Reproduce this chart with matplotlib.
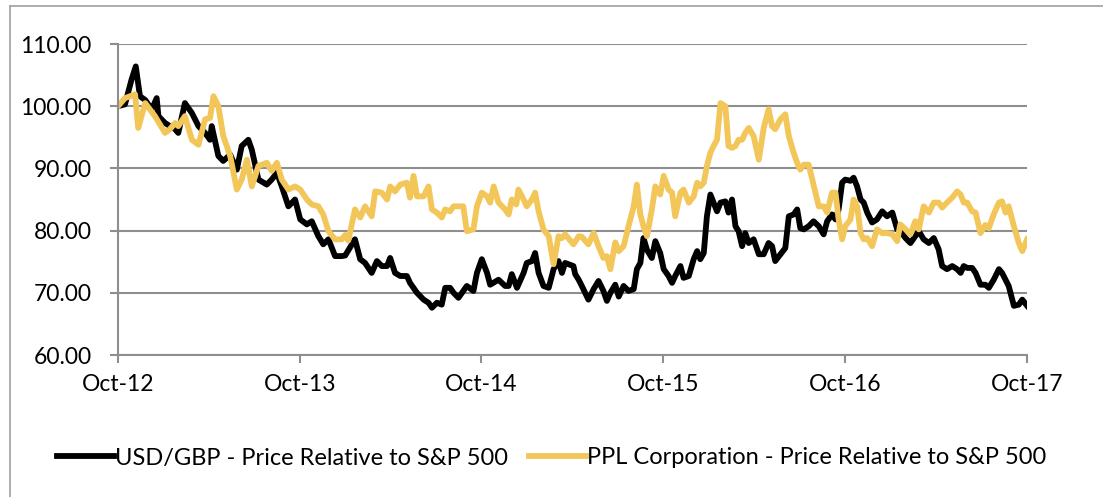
import matplotlib
matplotlib.use("Agg")
import matplotlib.pyplot as plt
import matplotlib.dates as mdates
from matplotlib.lines import Line2D
import pandas as pd
import numpy as np

plt.rcParams['font.family'] = ['Lato', 'DejaVu Sans']

start = pd.Timestamp('2012-10-01')
end = pd.Timestamp('2017-10-01')

series_names = ["USD/GBP - Price Relative to S&P 500",
                "PPL Corporation - Price Relative to S&P 500"]

# weeks since 1 Oct 2012, and values
usd_weeks = [0, 2.0, 3.9, 5.1, 6.3, 7.8, 9.7, 11.1, 11.6, 13.5, 14.9, 16.4, 17.3, 19.2, 21.2, 23.1,
             25.0, 26.4, 26.9, 28.8, 30.2, 32.2, 34.1, 35.5, 37.4, 38.4, 40.3, 42.7, 44.1, 45.6,
             47.0, 48.9, 50.8, 52.3, 54.2, 55.6, 57.5, 58.9, 60.4, 62.3, 64.2, 65.2, 68.0, 69.5,
             70.9, 72.8, 74.3, 75.7, 77.2, 78.1, 79.5, 81.0, 82.9, 83.8, 85.8, 87.7, 89.1, 90.1,
             91.5, 92.9, 93.9, 95.3, 96.3, 97.7, 99.1, 100.1, 102.0, 103.0, 104.4, 105.9, 106.8,
             109.2, 111.1, 112.1, 113.0, 114.5, 116.4, 117.3, 118.8, 119.7, 120.7, 122.1, 123.6,
             125.0, 126.4, 127.4, 128.3, 130.7, 131.2, 132.2, 133.1, 135.0, 136.5, 137.9, 139.3,
             140.3, 141.3, 142.7, 143.7, 145.1, 146.5, 148.0, 148.9, 149.9, 150.8, 151.8, 153.2,
             154.2, 155.6, 156.6, 158.0, 159.0, 159.9, 161.4, 162.3, 163.8, 165.2, 166.2, 167.1,
             168.1, 169.0, 170.0, 170.9, 171.9, 172.9, 174.3, 175.2, 176.2, 177.2, 178.1, 179.1,
             180.0, 181.0, 182.4, 183.9, 185.3, 186.7, 187.7, 188.6, 190.1, 191.5, 192.5, 193.9,
             194.9, 195.8, 196.8, 198.2, 199.6, 201.1, 202.5, 203.5, 204.9, 205.9, 206.8, 207.8,
             208.7, 210.2, 211.1, 212.1, 213.1, 214.0, 215.0, 216.4, 217.8, 219.3, 220.7, 222.2,
             223.6, 224.5, 226.0, 227.4, 228.8, 229.8, 231.2, 232.7, 234.1, 235.5, 236.5, 237.9,
             239.4, 240.8, 241.8, 242.7, 243.7, 245.1, 246.1, 247.5, 248.9, 249.9, 251.3, 252.8,
             253.7, 254.7, 255.6, 257.1, 258.5, 259.5, 260.9]
usd_values = [100.0, 100.3, 104.3, 106.4, 101.6, 101.0, 99.5, 101.3, 98.4, 97.3, 96.8, 96.3, 95.7,
              100.5, 98.9, 96.8, 95.7, 94.6, 96.8, 92.0, 91.2, 92.2, 89.8, 93.6, 94.6, 93.0, 88.2,
              87.4, 88.2, 89.3, 87.1, 83.9, 85.0, 81.8, 81.0, 81.5, 79.1, 77.8, 78.6, 75.9, 75.9,
              76.0, 78.6, 75.4, 74.8, 73.2, 75.1, 74.3, 74.3, 75.6, 73.2, 72.7, 72.7, 71.6, 70.0,
              68.9, 68.4, 67.6, 68.4, 68.1, 70.8, 70.8, 70.0, 69.2, 70.3, 71.1, 70.3, 73.2, 75.4,
              73.2, 71.3, 72.1, 71.1, 71.1, 73.0, 70.8, 73.2, 74.8, 75.1, 76.4, 73.2, 71.1, 70.8,
              73.8, 75.1, 73.2, 74.8, 74.3, 73.0, 72.1, 71.1, 68.9, 70.6, 71.9, 70.3, 68.7, 70.0,
              71.3, 69.4, 71.1, 70.3, 70.6, 73.8, 74.8, 78.8, 76.9, 75.6, 78.3, 76.4, 73.8, 72.7,
              71.6, 72.7, 74.3, 72.4, 72.7, 75.4, 76.7, 75.4, 76.4, 82.3, 85.8, 84.5, 83.1, 84.5,
              84.7, 82.9, 85.0, 80.7, 79.9, 77.5, 79.6, 78.0, 78.6, 76.2, 76.2, 78.0, 77.5, 75.1,
              76.2, 77.2, 82.3, 82.6, 83.4, 80.4, 80.2, 80.7, 81.5, 80.7, 79.4, 81.5, 82.6, 81.8,
              83.4, 87.7, 88.2, 88.0, 88.5, 87.1, 85.0, 84.5, 82.9, 81.3, 81.8, 83.1, 82.3, 82.9,
              80.2, 79.9, 78.8, 78.0, 79.1, 79.9, 78.6, 78.0, 78.8, 77.0, 74.3, 73.8, 74.3, 73.8,
              73.2, 74.3, 74.0, 74.0, 73.2, 71.3, 71.3, 70.8, 72.1, 73.8, 73.2, 72.1, 71.1, 67.9,
              68.1, 68.9, 67.9]

ppl_weeks = [0, 2.0, 4.9, 5.8, 7.8, 10.6, 13.5, 14.9, 16.4, 17.3, 19.2, 21.2, 23.1, 25.0, 26.4,
             27.4, 28.8, 30.2, 32.2, 34.1, 35.5, 37.0, 38.4, 40.3, 42.7, 44.1, 45.6, 47.0, 48.9,
             50.8, 52.3, 54.2, 55.6, 57.5, 58.9, 60.4, 62.3, 64.2, 65.2, 66.1, 68.0, 69.5, 70.9,
             72.8, 73.8, 75.7, 77.2, 78.1, 79.5, 81.0, 82.9, 83.8, 84.8, 85.8, 87.7, 89.1, 90.1,
             91.5, 92.9, 93.9, 95.3, 96.3, 97.7, 99.1, 100.1, 102.0, 103.0, 104.4, 105.9, 106.8,
             107.8, 109.2, 111.1, 112.1, 113.0, 114.3, 114.9, 116.4, 117.3, 118.8, 119.7, 120.7,
             122.1, 123.6, 125.0, 126.4, 127.4, 128.3, 130.7, 132.2, 133.1, 135.0, 136.5, 137.9,
             139.3, 140.3, 141.3, 142.7, 143.7, 145.1, 146.5, 148.0, 148.9, 149.9, 150.8, 151.8,
             153.2, 154.2, 155.6, 156.6, 158.0, 159.0, 159.9, 161.4, 162.3, 163.8, 165.2, 166.2,
             167.1, 168.1, 169.0, 170.0, 170.9, 171.9, 172.9, 174.3, 175.2, 176.2, 177.2, 178.1,
             179.1, 180.0, 181.0, 182.4, 183.9, 185.3, 186.7, 187.7, 188.6, 190.1, 191.5, 192.5,
             193.9, 194.9, 195.8, 196.8, 198.2, 199.6, 201.1, 202.5, 203.5, 204.9, 205.9, 206.8,
             207.8, 208.7, 210.2, 211.1, 212.1, 213.1, 214.0, 215.0, 216.4, 217.8, 219.3, 220.7,
             222.2, 223.6, 224.5, 226.0, 227.4, 228.8, 229.8, 231.2, 232.7, 234.1, 235.5, 236.5,
             237.9, 239.4, 240.8, 241.8, 242.7, 243.7, 245.1, 246.1, 247.5, 248.9, 249.9, 251.3,
             252.8, 253.7, 254.7, 255.6, 257.1, 258.5, 259.5, 260.9]
ppl_values = [100.0, 101.3, 101.9, 96.5, 100.5, 98.4, 95.7, 96.3, 97.3, 96.8, 98.4, 94.6, 93.8,
              97.9, 98.1, 101.6, 100.0, 95.2, 92.0, 86.6, 88.2, 91.4, 87.1, 90.4, 90.9, 89.6,
              90.9, 88.2, 86.6, 87.1, 86.6, 85.0, 84.2, 83.9, 82.6, 79.9, 78.6, 78.6, 79.3, 78.4,
              83.4, 82.1, 83.9, 82.3, 86.3, 86.1, 85.0, 87.1, 86.3, 87.4, 87.7, 85.3, 88.8, 85.5,
              85.5, 87.1, 83.4, 82.9, 82.1, 83.4, 83.1, 83.9, 83.9, 83.9, 79.9, 80.2, 83.9, 86.1,
              85.5, 84.5, 87.1, 84.5, 83.4, 82.6, 85.0, 84.2, 86.6, 85.0, 83.9, 85.0, 86.1, 83.1,
              80.2, 79.1, 74.6, 79.1, 78.8, 79.4, 77.8, 79.1, 79.0, 77.8, 79.6, 77.5, 75.6, 75.9,
              73.8, 78.1, 76.7, 77.5, 80.7, 83.9, 87.4, 82.6, 80.7, 79.1, 83.4, 87.1, 85.8, 88.8,
              86.6, 86.1, 82.3, 86.1, 86.6, 84.5, 85.5, 87.7, 87.1, 87.7, 90.4, 92.5, 93.6, 94.6,
              100.5, 100.0, 93.6, 93.3, 93.6, 94.6, 94.6, 95.7, 96.5, 95.2, 91.4, 96.5, 99.5, 96.8,
              96.3, 97.9, 98.7, 95.2, 92.5, 90.9, 89.8, 90.6, 90.6, 87.4, 83.9, 83.9, 82.9, 86.1,
              86.1, 81.8, 78.6, 80.7, 81.8, 85.0, 83.9, 79.6, 78.6, 78.8, 77.5, 80.2, 79.6, 79.6,
              79.4, 78.3, 81.0, 80.2, 79.4, 81.5, 80.2, 83.9, 82.9, 84.5, 84.5, 83.7, 84.5, 85.3,
              86.3, 85.8, 84.5, 84.5, 83.1, 82.9, 79.6, 80.9, 80.4, 82.6, 84.5, 84.7, 82.9, 83.9,
              80.7, 78.0, 76.7, 78.6]

tick_dates = ['2012-10-01', '2013-10-01', '2014-10-01', '2015-10-01', '2016-10-01', '2017-10-01']
y_ticks = [60, 70, 80, 90, 100, 110]

usd_dates = start + pd.to_timedelta(np.array(usd_weeks) * 7, unit='D')
ppl_dates = start + pd.to_timedelta(np.array(ppl_weeks) * 7, unit='D')

fig = plt.figure(figsize=(11.03, 4.97), dpi=100)
ax = fig.add_axes([118 / 1103, 1 - 355 / 497, (1027 - 118) / 1103, (355 - 44) / 497])

grid_c = '#8e8e8e'
ax.set_ylim(60, 110)
ax.set_xlim(start, end)
ax.set_yticks(y_ticks)
ax.set_yticklabels([f"{v:.2f}" for v in y_ticks])
ax.set_xticks(pd.to_datetime(tick_dates))
ax.xaxis.set_major_formatter(mdates.DateFormatter('%b-%y'))
ax.yaxis.grid(True, color=grid_c, linewidth=1.5)
ax.set_axisbelow(True)
for s in ['top', 'right']:
    ax.spines[s].set_visible(False)
ax.spines['left'].set_color(grid_c)
ax.spines['left'].set_linewidth(1.5)
ax.spines['bottom'].set_color(grid_c)
ax.spines['bottom'].set_linewidth(1.5)
ax.tick_params(axis='y', length=6, width=1.5, color=grid_c, pad=13, labelsize=16.5)
ax.tick_params(axis='x', length=6, width=1.5, color=grid_c, pad=8, labelsize=16.5)

ax.plot(usd_dates, usd_values, color='black', linewidth=4.2, solid_joinstyle='round',
        label=series_names[0])
ax.plot(ppl_dates, ppl_values, color='#F3C65A', linewidth=4.2, solid_joinstyle='round',
        label=series_names[1])

fig.legend(loc='center', bbox_to_anchor=(0.5, 1 - 458 / 497), ncol=2, frameon=False,
           fontsize=17, handlelength=2.4, handletextpad=0.05, columnspacing=0.9)

# outer chart border (left & top)
bx = 10 / 1103
by = 1 - 6 / 497
fig.add_artist(Line2D([bx, bx], [0, by], transform=fig.transFigure, color='#a0a0a0', linewidth=1.2))
fig.add_artist(Line2D([bx, 1], [by, by], transform=fig.transFigure, color='#a0a0a0', linewidth=1.2))

fig.savefig('out.png', dpi=100)
